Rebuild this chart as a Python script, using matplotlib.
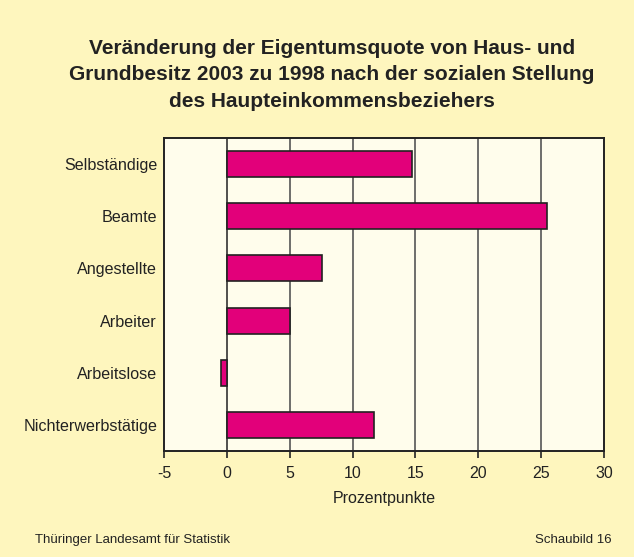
import matplotlib.pyplot as plt

plt.rcParams['font.family'] = ['Liberation Sans', 'DejaVu Sans']

categories = ['Selbständige', 'Beamte', 'Angestellte', 'Arbeiter', 'Arbeitslose', 'Nichterwerbstätige']
values = [14.7, 25.5, 7.6, 5.0, -0.5, 11.7]
xticks = [-5, 0, 5, 10, 15, 20, 25, 30]

bg = '#FEF6BE'
plot_bg = '#FFFDEC'
bar_color = '#E2007A'
text_color = '#222222'

fig = plt.figure(figsize=(6.34, 5.57), dpi=100, facecolor=bg)
ax = fig.add_axes([164 / 634, 106 / 557, 440 / 634, 313 / 557])
ax.set_facecolor(plot_bg)

ypos = list(range(len(categories)))
ax.barh(ypos, values, height=0.5, color=bar_color, edgecolor='#222222', linewidth=1.2, zorder=3)

ax.set_ylim(len(categories) - 0.5, -0.5)
ax.set_xlim(-5, 30)
ax.set_xticks(xticks)
ax.set_xticklabels([str(t) for t in xticks], fontsize=11.5, color=text_color)
ax.set_yticks(ypos)
ax.set_yticklabels(categories, fontsize=11.6, color=text_color)
ax.tick_params(axis='y', length=0, pad=5)
ax.tick_params(axis='x', length=5, width=1.2, color='#222222', pad=6)

for t in xticks[1:-1]:
    ax.axvline(t, color='#333333' if t == 0 else '#555555', linewidth=1.2, zorder=1)

for s in ax.spines.values():
    s.set_color('#222222')
    s.set_linewidth(1.4)

ax.set_xlabel('Prozentpunkte', fontsize=11.5, color=text_color, labelpad=7)

fig.text(0.523, 1 - 75 / 557, 'Veränderung der Eigentumsquote von Haus- und\n'
         'Grundbesitz 2003 zu 1998 nach der sozialen Stellung\n'
         'des Haupteinkommensbeziehers',
         ha='center', va='center', fontsize=15, fontweight='bold', color=text_color, linespacing=1.5)

fig.text(35 / 634, 1 - 540 / 557, 'Thüringer Landesamt für Statistik', fontsize=9.5, color=text_color, va='center')
fig.text(612 / 634, 1 - 540 / 557, 'Schaubild 16', fontsize=9.5, color=text_color, va='center', ha='right')

fig.savefig('out.png', dpi=100, facecolor=bg)
